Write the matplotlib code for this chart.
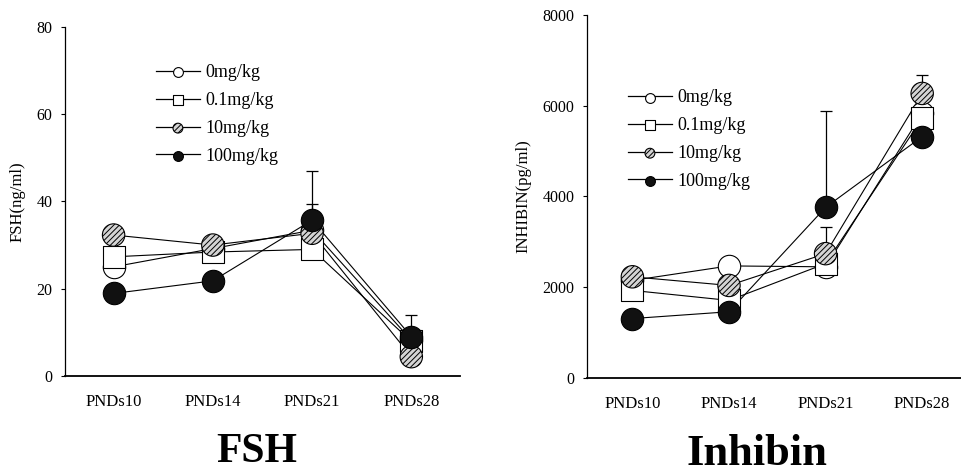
import numpy as np
import matplotlib
matplotlib.use("Agg")
import matplotlib.pyplot as plt
from matplotlib.legend_handler import HandlerTuple
from matplotlib.lines import Line2D

plt.rcParams['font.family'] = ['Liberation Serif', 'DejaVu Serif']
plt.rcParams['hatch.linewidth'] = 0.7

days = ["PNDs10", "PNDs14", "PNDs21", "PNDs28"]
doses = ["0mg/kg", "0.1mg/kg", "10mg/kg", "100mg/kg"]

# FSH (ng/ml)
fsh_0 = [25.0, 29.2, 33.4, 8.2]
fsh_01 = [27.3, 28.4, 29.0, 7.9]
fsh_10 = [32.3, 30.0, 32.7, 4.4]
fsh_100 = [18.9, 21.8, 35.7, 9.0]
fsh_err_0 = [0, 0, 6.1, 0]
fsh_err_01 = [0, 0, 0, 0]
fsh_err_10 = [0, 0, 0, 0]
fsh_err_100 = [0, 0, 11.3, 5.0]

# Inhibin (pg/ml)
inh_0 = [2150, 2470, 2450, 5830]
inh_01 = [1930, 1710, 2520, 5720]
inh_10 = [2230, 2040, 2740, 6270]
inh_100 = [1310, 1460, 3760, 5320]
inh_err_0 = [0, 0, 0, 0]
inh_err_01 = [0, 0, 0, 0]
inh_err_10 = [0, 0, 590, 400]
inh_err_100 = [0, 0, 2120, 0]

styles = [
    dict(marker='o', facecolor='white', hatch=None),
    dict(marker='s', facecolor='white', hatch=None),
    dict(marker='o', facecolor='#d4d4d4', hatch='//////'),
    dict(marker='o', facecolor='#111111', hatch=None),
]


def draw_panel(ax, series, errs, ylim, yticks, ylabel, xlim, legend_anchor):
    x = np.arange(len(days))
    for vals in series:
        ax.plot(x, vals, color='black', lw=0.8, zorder=2)
    for vals, err in zip(series, errs):
        err = np.array(err, dtype=float)
        m = err > 0
        if m.any():
            ax.errorbar(x[m], np.array(vals)[m], yerr=[np.zeros(m.sum()), err[m]],
                        fmt='none', ecolor='black', elinewidth=0.9, capsize=4,
                        capthick=0.9, zorder=2.5)
    handles = []
    for i, (vals, st) in enumerate(zip(series, styles)):
        ax.scatter(x, vals, s=260, marker=st['marker'], facecolor=st['facecolor'],
                   edgecolor='black', linewidth=0.8, hatch=st['hatch'], zorder=3 + i)
        ln = Line2D([], [], color='black', lw=0.9)
        pt = ax.scatter([], [], s=50, marker=st['marker'], facecolor=st['facecolor'],
                        edgecolor='black', linewidth=0.8, hatch=st['hatch'])
        handles.append((ln, pt))
    ax.legend(handles, doses, handler_map={tuple: HandlerTuple(ndivide=1, pad=0)},
              loc='upper left', bbox_to_anchor=legend_anchor, frameon=False,
              fontsize=13, handlelength=2.4, handletextpad=0.3, labelspacing=0.6)
    ax.set_xlim(*xlim)
    ax.set_ylim(*ylim)
    ax.set_yticks(yticks)
    ax.set_xticks(x)
    ax.set_xticklabels(days, fontsize=12)
    ax.tick_params(axis='x', length=0, pad=13)
    ax.tick_params(axis='y', length=3, labelsize=11.5, pad=6)
    ax.set_ylabel(ylabel, fontsize=12, labelpad=8)
    for s in ['top', 'right']:
        ax.spines[s].set_visible(False)
    ax.spines['left'].set_linewidth(0.9)
    ax.spines['bottom'].set_linewidth(1.3)


fig = plt.figure(figsize=(9.61, 4.74), dpi=100)
ax1 = fig.add_axes([0.0676, 0.207, 0.411, 0.736])
ax2 = fig.add_axes([0.6108, 0.2025, 0.389, 0.766])

draw_panel(ax1, [fsh_0, fsh_01, fsh_10, fsh_100],
           [fsh_err_0, fsh_err_01, fsh_err_10, fsh_err_100],
           (0, 80), [0, 20, 40, 60, 80], "FSH(ng/ml)", (-0.49, 3.49), (0.19, 0.94))
draw_panel(ax2, [inh_0, inh_01, inh_10, inh_100],
           [inh_err_0, inh_err_01, inh_err_10, inh_err_100],
           (0, 8000), [0, 2000, 4000, 6000, 8000], "INHIBIN(pg/ml)", (-0.47, 3.4),
           (0.067, 0.84))

fig.text(0.267, 0.025, "FSH", ha='center', va='baseline', fontsize=30, fontweight='bold')
fig.text(0.788, 0.019, "Inhibin", ha='center', va='baseline', fontsize=32, fontweight='bold')

fig.savefig("out.png", dpi=100)
